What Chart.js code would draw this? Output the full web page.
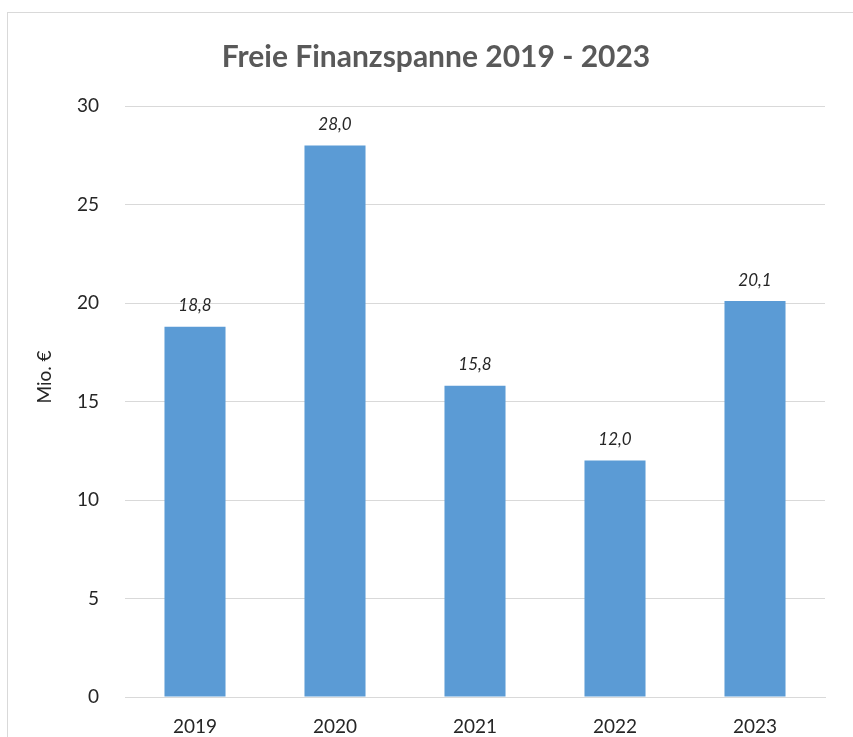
<!DOCTYPE html>
<html><head><meta charset="utf-8">
<script src="https://cdn.jsdelivr.net/npm/chart.js@4/dist/chart.umd.min.js"></script>
<style>html,body{margin:0;padding:0;background:#fff;overflow:hidden}</style>
</head><body>
<canvas id="c" width="853" height="737"></canvas>
<script>
const categories = ["2019", "2020", "2021", "2022", "2023"];
const values = [18.8, 28.0, 15.8, 12.0, 20.1];
const yTicks = [0, 5, 10, 15, 20, 25, 30];
const titleText = "Freie Finanzspanne 2019 - 2023";
const yAxisTitle = "Mio. €";

const FONT = "Lato, 'Open Sans', sans-serif";

const framePlugin = {
  id: 'frame',
  beforeDraw(chart) {
    const ctx = chart.ctx;
    ctx.save();
    ctx.fillStyle = '#fff';
    ctx.fillRect(0, 0, chart.width, chart.height);
    ctx.strokeStyle = '#d9d9d9';
    ctx.lineWidth = 1;
    ctx.strokeRect(7.5, 12.5, 2000, 2000);
    ctx.restore();
  },
  afterDraw(chart) {
    const ctx = chart.ctx;
    ctx.save();
    // chart title
    ctx.font = "bold 30px " + FONT;
    ctx.fillStyle = '#595959';
    ctx.textAlign = 'center';
    ctx.textBaseline = 'middle';
    ctx.fillText(titleText, 436, 57);
    // y axis title
    ctx.translate(45, 377);
    ctx.rotate(-Math.PI / 2);
    ctx.font = "19px " + FONT;
    ctx.fillStyle = '#262626';
    ctx.fillText(yAxisTitle, 0, 0);
    ctx.restore();
  }
};

const labelPlugin = {
  id: 'valueLabels',
  afterDatasetsDraw(chart) {
    const ctx = chart.ctx;
    const meta = chart.getDatasetMeta(0);
    ctx.save();
    ctx.font = "italic 17px " + FONT;
    ctx.fillStyle = '#262626';
    ctx.textAlign = 'center';
    ctx.textBaseline = 'middle';
    meta.data.forEach((bar, i) => {
      const v = chart.data.datasets[0].data[i];
      ctx.fillText(v.toFixed(1).replace('.', ','), bar.x, bar.y - 21);
    });
    ctx.restore();
  }
};

new Chart(document.getElementById('c'), {
  type: 'bar',
  data: {
    labels: categories,
    datasets: [{
      data: values,
      backgroundColor: '#5b9bd5',
      borderWidth: 0,
      categoryPercentage: 1,
      barPercentage: 0.436
    }]
  },
  options: {
    responsive: false,
    animation: false,
    layout: { padding: { left: 0, right: 28, top: 106, bottom: 0 } },
    plugins: {
      legend: { display: false },
      tooltip: { enabled: false },
      title: { display: false }
    },
    scales: {
      x: {
        grid: { display: false, drawTicks: false },
        border: { display: true, color: '#d9d9d9', width: 1 },
        ticks: { color: '#262626', font: { family: FONT, size: 19 }, padding: 18 },
        afterFit(s) { s.height = 40; }
      },
      y: {
        min: 0, max: 30,
        afterBuildTicks(s) { s.ticks = yTicks.map(v => ({ value: v })); },
        grid: { color: '#d9d9d9', lineWidth: 1, drawTicks: false },
        border: { display: false },
        ticks: { color: '#262626', font: { family: FONT, size: 19 }, padding: 26 },
        afterFit(s) { s.width = 125; }
      }
    }
  },
  plugins: [framePlugin, labelPlugin]
});
</script>
</body></html>
